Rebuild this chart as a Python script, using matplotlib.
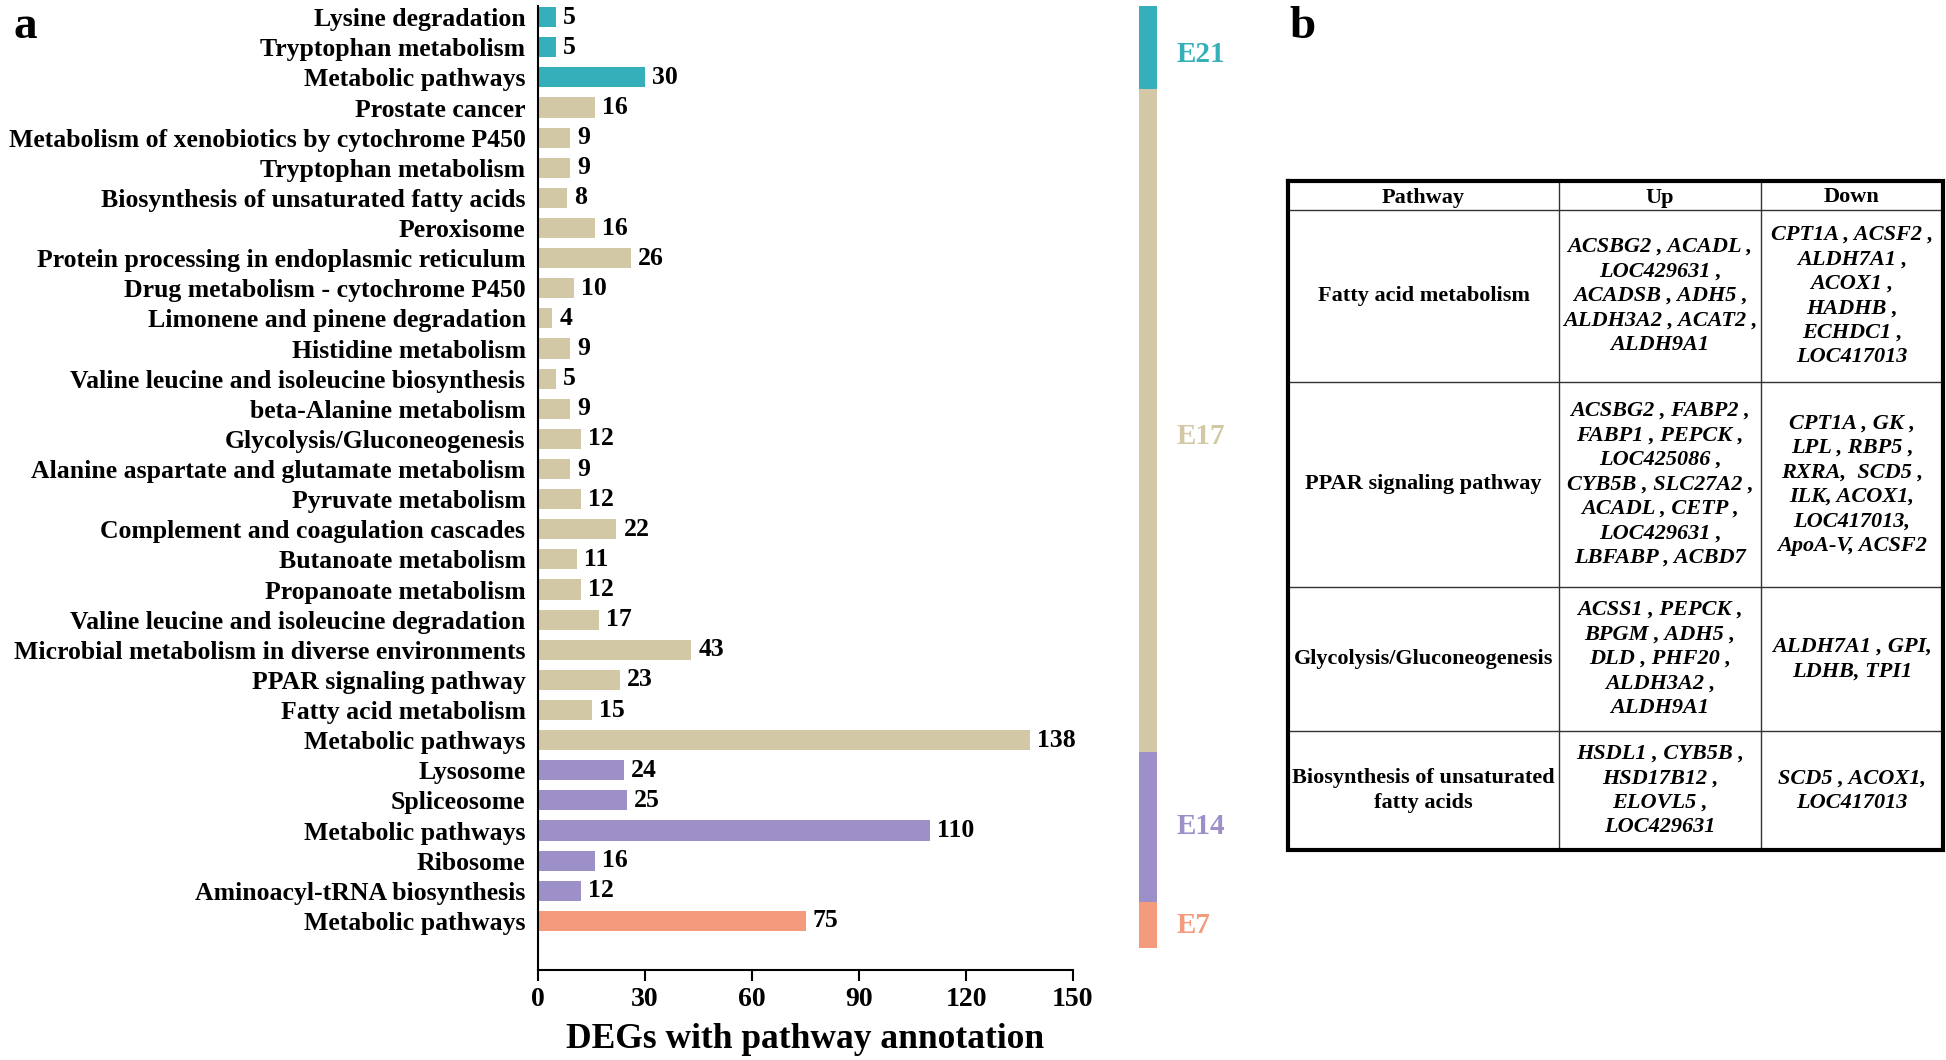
import numpy as np
import matplotlib
matplotlib.use("Agg")
import matplotlib.pyplot as plt

plt.rcParams['font.family'] = ['Liberation Serif', 'DejaVu Serif']
plt.rcParams['font.weight'] = 'bold'

# panel a data, top to bottom
pathways = [
    "Lysine degradation", "Tryptophan metabolism", "Metabolic pathways",
    "Prostate cancer", "Metabolism of xenobiotics by cytochrome P450",
    "Tryptophan metabolism", "Biosynthesis of unsaturated fatty acids",
    "Peroxisome", "Protein processing in endoplasmic reticulum",
    "Drug metabolism - cytochrome P450", "Limonene and pinene degradation",
    "Histidine metabolism", "Valine leucine and isoleucine biosynthesis",
    "beta-Alanine metabolism", "Glycolysis/Gluconeogenesis",
    "Alanine aspartate and glutamate metabolism", "Pyruvate metabolism",
    "Complement and coagulation cascades", "Butanoate metabolism",
    "Propanoate metabolism", "Valine leucine and isoleucine degradation",
    "Microbial metabolism in diverse environments", "PPAR signaling pathway",
    "Fatty acid metabolism", "Metabolic pathways",
    "Lysosome", "Spliceosome", "Metabolic pathways", "Ribosome",
    "Aminoacyl-tRNA biosynthesis",
    "Metabolic pathways",
]
counts = [5, 5, 30,
          16, 9, 9, 8, 16, 26, 10, 4, 9, 5, 9, 12, 9, 12, 22, 11, 12, 17, 43, 23, 15, 138,
          24, 25, 110, 16, 12,
          75]
stages = ["E21"] * 3 + ["E17"] * 22 + ["E14"] * 5 + ["E7"]
stage_order = ["E21", "E17", "E14", "E7"]
stage_colors = {"E21": "#35AFBA", "E17": "#D3C8A6", "E14": "#9D90C8", "E7": "#F39B7C"}

# panel b table
tab_header = ["Pathway", "Up", "Down"]
tab_pathway = ["Fatty acid metabolism", "PPAR signaling pathway",
               "Glycolysis/Gluconeogenesis", "Biosynthesis of unsaturated\nfatty acids"]
tab_up = [
    "ACSBG2 , ACADL ,\nLOC429631 ,\nACADSB , ADH5 ,\nALDH3A2 , ACAT2 ,\nALDH9A1",
    "ACSBG2 , FABP2 ,\nFABP1 , PEPCK ,\nLOC425086 ,\nCYB5B , SLC27A2 ,\nACADL , CETP ,\nLOC429631 ,\nLBFABP , ACBD7",
    "ACSS1 , PEPCK ,\nBPGM , ADH5 ,\nDLD , PHF20 ,\nALDH3A2 ,\nALDH9A1",
    "HSDL1 , CYB5B ,\nHSD17B12 ,\nELOVL5 ,\nLOC429631",
]
tab_down = [
    "CPT1A , ACSF2 ,\nALDH7A1 ,\nACOX1 ,\nHADHB ,\nECHDC1 ,\nLOC417013",
    "CPT1A , GK ,\nLPL , RBP5 ,\nRXRA,  SCD5 ,\nILK, ACOX1,\nLOC417013,\nApoA-V, ACSF2",
    "ALDH7A1 , GPI,\nLDHB, TPI1",
    "SCD5 , ACOX1,\nLOC417013",
]

W, H = 1946, 1060
fig = plt.figure(figsize=(W / 100, H / 100), dpi=100)

# ---- panel a ----
ax = fig.add_axes([538 / W, 1 - 970 / H, (1073 - 538) / W, (970 - 6) / H])
n = len(counts)
y = np.arange(n)
colors = [stage_colors[s] for s in stages]
ax.barh(y, counts, height=0.67, color=colors)
for yi, c in zip(y, counts):
    ax.text(c + 2, yi, str(c), va='center', ha='left', fontsize=18.5, fontweight='bold')

ax.set_yticks(y, labels=pathways, fontsize=18.5, fontweight='bold')
ax.tick_params(axis='y', length=0, pad=9)
ax.set_xticks([0, 30, 60, 90, 120, 150])
ax.tick_params(axis='x', length=8, width=1.5, labelsize=20, pad=4)
ax.set_xlim(0, 150)
ax.set_ylim(n - 1 + 1.63, -0.37)
ax.set_xlabel("DEGs with pathway annotation", fontsize=25.5, fontweight='bold', labelpad=8)
for s in ['top', 'right']:
    ax.spines[s].set_visible(False)
for s in ['left', 'bottom']:
    ax.spines[s].set_linewidth(1.5)

# stage side bar
label_shift = {"E21": 0.25, "E17": 0.55, "E14": 0.0, "E7": 0.0}
start = -0.37
cum = 0
for st in stage_order:
    cum += stages.count(st)
    end = cum - 0.62 if cum < n else n - 1 + 0.9
    b = ax.bar(171, end - start, bottom=start, width=5, color=stage_colors[st])
    for p in b:
        p.set_clip_on(False)
    ax.text(179, (start + end) / 2 + label_shift[st], st, color=stage_colors[st], fontsize=21,
            fontweight='bold', va='center', ha='left', clip_on=False)
    start = end

fig.text(25 / W, 1 - 27 / H, "a", fontsize=34, fontweight='bold', va='center', ha='center')
fig.text(1303 / W, 1 - 27 / H, "b", fontsize=34, fontweight='bold', va='center', ha='center')

# ---- panel b: table ----
tx = fig.add_axes([0, 0, 1, 1])
tx.set_xlim(0, W)
tx.set_ylim(H, 0)
tx.axis('off')
xs = [1288, 1559, 1761, 1943]
ys = [181, 210, 382, 587, 731, 850]
for yy in ys[1:-1]:
    tx.plot([xs[0], xs[-1]], [yy, yy], color='#333333', lw=1)
for xx in xs[1:-1]:
    tx.plot([xx, xx], [ys[0], ys[-1]], color='#333333', lw=1)
tx.plot([xs[0], xs[-1], xs[-1], xs[0], xs[0]], [ys[0], ys[0], ys[-1], ys[-1], ys[0]],
        color='black', lw=3, solid_joinstyle='miter')

cx = [(xs[i] + xs[i + 1]) / 2 for i in range(3)]
for i, h in enumerate(tab_header):
    tx.text(cx[i], (ys[0] + ys[1]) / 2 + 2, h, ha='center', va='center', fontsize=16, fontweight='bold')
for r in range(4):
    cy = (ys[r + 1] + ys[r + 2]) / 2
    tx.text(cx[0], cy, tab_pathway[r], ha='center', va='center', fontsize=16,
            fontweight='bold', linespacing=1.3)
    tx.text(cx[1], cy, tab_up[r], ha='center', va='center', fontsize=16,
            fontweight='bold', style='italic', linespacing=1.3)
    tx.text(cx[2], cy, tab_down[r], ha='center', va='center', fontsize=16,
            fontweight='bold', style='italic', linespacing=1.3)

fig.savefig("out.png", dpi=100)
